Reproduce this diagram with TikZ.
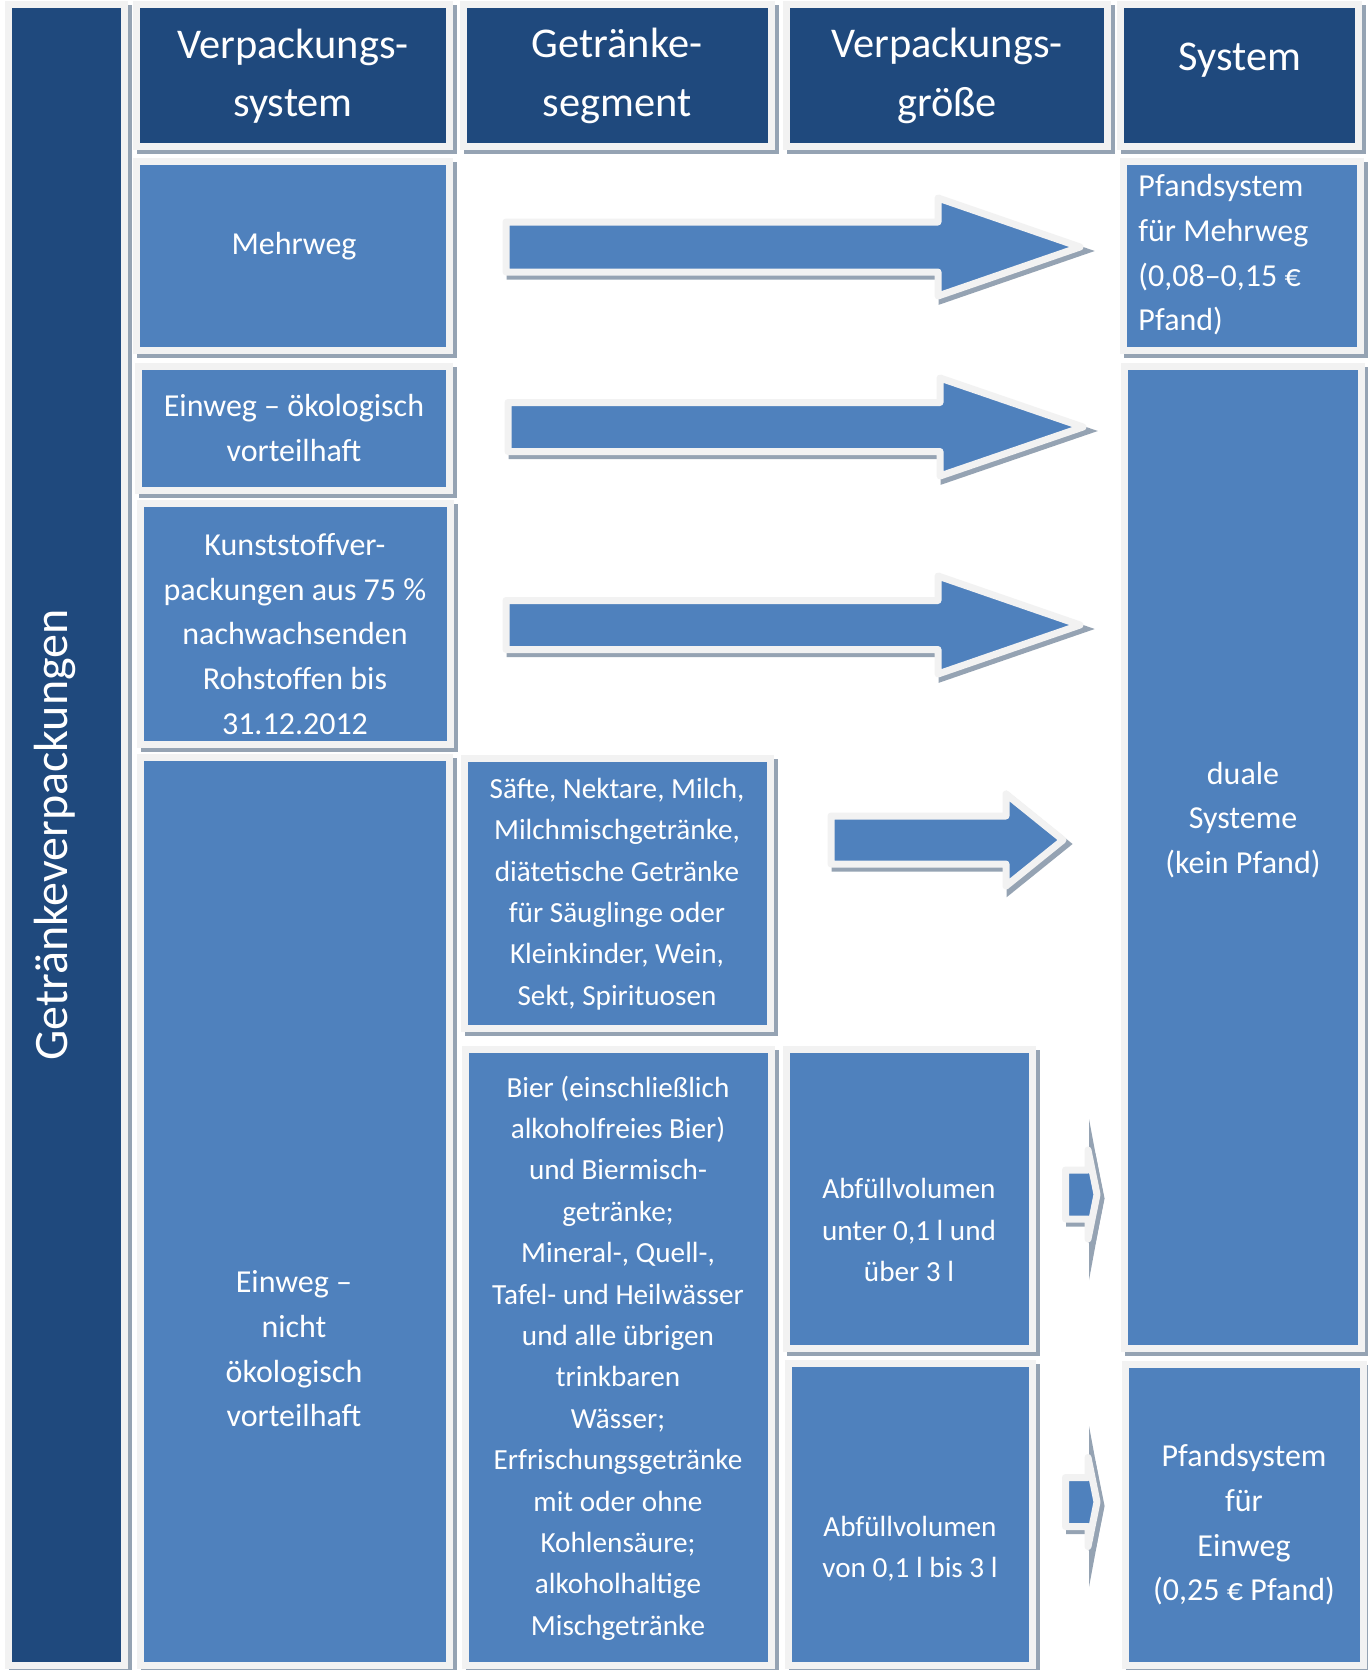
\documentclass[tikz,border=0pt]{standalone}
\usepackage{fontspec}
\setmainfont{Carlito}
\usetikzlibrary{fit,shadows}

\definecolor{headblue}{RGB}{31,73,125}
\definecolor{boxblue}{RGB}{79,129,189}
\definecolor{framegray}{RGB}{242,242,242}
\definecolor{shadowgray}{RGB}{149,163,179}

\begin{document}
\begin{tikzpicture}[x=0.5pt,y=-0.5pt,
    cell/.style={rectangle,draw=framegray,line width=3.5pt,inner sep=1.75pt,fill=boxblue,
      drop shadow={shadow xshift=2pt,shadow yshift=-2pt,opacity=1,fill=shadowgray,draw=shadowgray,line width=3.5pt}},
    headcell/.style={cell,fill=headblue},
    blockarrow/.style={draw=framegray,line width=3.5pt,fill=boxblue,line join=round,
      drop shadow={shadow xshift=2pt,shadow yshift=-2pt,opacity=1,fill=shadowgray,draw=shadowgray,line width=3.5pt}},
    headtext/.style={text=white,align=center,inner sep=0pt,font=\fontsize{21.2}{29.3}\selectfont},
    bigtext/.style={text=white,align=center,inner sep=0pt,font=\fontsize{16}{22.35}\selectfont},
    smalltext/.style={text=white,align=center,inner sep=0pt,font=\fontsize{14.6}{20.7}\selectfont}]
\useasboundingbox[fill=white] (0,0) rectangle (1368,1670);

\node[headcell,fit={(12,8) (121,1662)}] (bar) {};
\node[headcell,fit={(140,8) (446,143)}] (hsystem) {};
\node[headcell,fit={(467,8) (768,143)}] (hsegment) {};
\node[headcell,fit={(790,8) (1104,143)}] (hsize) {};
\node[headcell,fit={(1124,8) (1355,143)}] (hpfand) {};

\node[cell,fit={(140,165) (446,347)}] (mehrweg) {};
\node[cell,fit={(142,370) (446,487)}] (oeko) {};
\node[cell,fit={(144,507) (447,741)}] (kunst) {};
\node[cell,fit={(144,761) (446,1662)}] (nichtoeko) {};
\node[cell,fit={(468,762) (767,1025)}] (saefte) {};
\node[cell,fit={(469,1053) (768,1662)}] (bier) {};
\node[cell,fit={(790,1053) (1029,1345)}] (unter) {};
\node[cell,fit={(792,1367) (1029,1662)}] (von) {};
\node[cell,fit={(1127,165) (1357,347)}] (pfmehrweg) {};
\node[cell,fit={(1128,370) (1358,1345)}] (dual) {};
\node[cell,fit={(1129,1368) (1360,1662)}] (pfeinweg) {};

\node[headtext,rotate=90,font=\fontsize{24}{28}\selectfont] (tbar) at (55,835) {Getränkeverpackungen};
\node[headtext] (tsystem) at (293,76) {Verpackungs-\\system};
\node[headtext] (tsegment) at (617,76) {Getränke-\\segment};
\node[headtext] (tsize) at (947,76) {Verpackungs-\\größe};
\node[headtext] (tpfand) at (1240,60) {System};

\node[bigtext] (tmehrweg) at (294,246) {Mehrweg};
\node[bigtext] (toeko) at (294,428) {Einweg – ökologisch\\vorteilhaft};
\node[bigtext] (tkunst) at (295,634) {Kunststoffver-\\packungen aus 75 \%\\nachwachsenden\\Rohstoffen bis\\31.12.2012};
\node[bigtext] (tnichtoeko) at (294,1349) {Einweg –\\nicht\\ökologisch\\vorteilhaft};
\node[smalltext] (tsaefte) at (617,894) {Säfte, Nektare, Milch,\\Milchmischgetränke,\\diätetische Getränke\\für Säuglinge oder\\Kleinkinder, Wein,\\Sekt, Spirituosen};
\node[smalltext] (tbier) at (618,1358) {Bier (einschließlich\\alkoholfreies Bier)\\und Biermisch-\\getränke;\\Mineral-, Quell-,\\Tafel- und Heilwässer\\und alle übrigen\\trinkbaren\\Wässer;\\Erfrischungsgetränke\\mit oder ohne\\Kohlensäure;\\alkoholhaltige\\Mischgetränke};
\node[smalltext] (tunter) at (909,1230) {Abfüllvolumen\\unter 0,1 l und\\über 3 l};
\node[smalltext] (tvon) at (910,1549) {Abfüllvolumen\\von 0,1 l bis 3 l};
\node[bigtext,align=left,anchor=west] (tpfmehrweg) at (1138,255) {Pfandsystem\\für Mehrweg\\(0,08–0,15 €\\Pfand)};
\node[bigtext] (tdual) at (1243,820) {duale\\Systeme\\(kein Pfand)};
\node[bigtext] (tpfeinweg) at (1244,1525) {Pfandsystem\\für\\Einweg\\(0,25 € Pfand)};

\draw[blockarrow] (506,222) -- (938,222) -- (938,198) -- (1080,247) -- (938,296) -- (938,272) -- (506,272) -- cycle;
\draw[blockarrow] (508,402.5) -- (940,402.5) -- (940,378) -- (1083,427) -- (940,476) -- (940,451.5) -- (508,451.5) -- cycle;
\draw[blockarrow] (506,600.5) -- (938,600.5) -- (938,576) -- (1080,625) -- (938,674) -- (938,649.5) -- (506,649.5) -- cycle;
\draw[blockarrow] (831,816) -- (1006,816) -- (1006,794) -- (1063,840) -- (1006,886) -- (1006,864) -- (831,864) -- cycle;

\fill[shadowgray] (1089,1119) -- (1104,1199) -- (1089,1280) -- cycle;
\draw[blockarrow] (1065.5,1170) -- (1088,1170) -- (1088,1150) -- (1097,1194.5) -- (1088,1239) -- (1088,1219) -- (1065.5,1219) -- cycle;
\fill[shadowgray] (1089,1426) -- (1104,1506.5) -- (1089,1587) -- cycle;
\draw[blockarrow] (1065.5,1477.5) -- (1088,1477.5) -- (1088,1457.5) -- (1097,1502) -- (1088,1546.5) -- (1088,1526.5) -- (1065.5,1526.5) -- cycle;
\end{tikzpicture}
\end{document}
